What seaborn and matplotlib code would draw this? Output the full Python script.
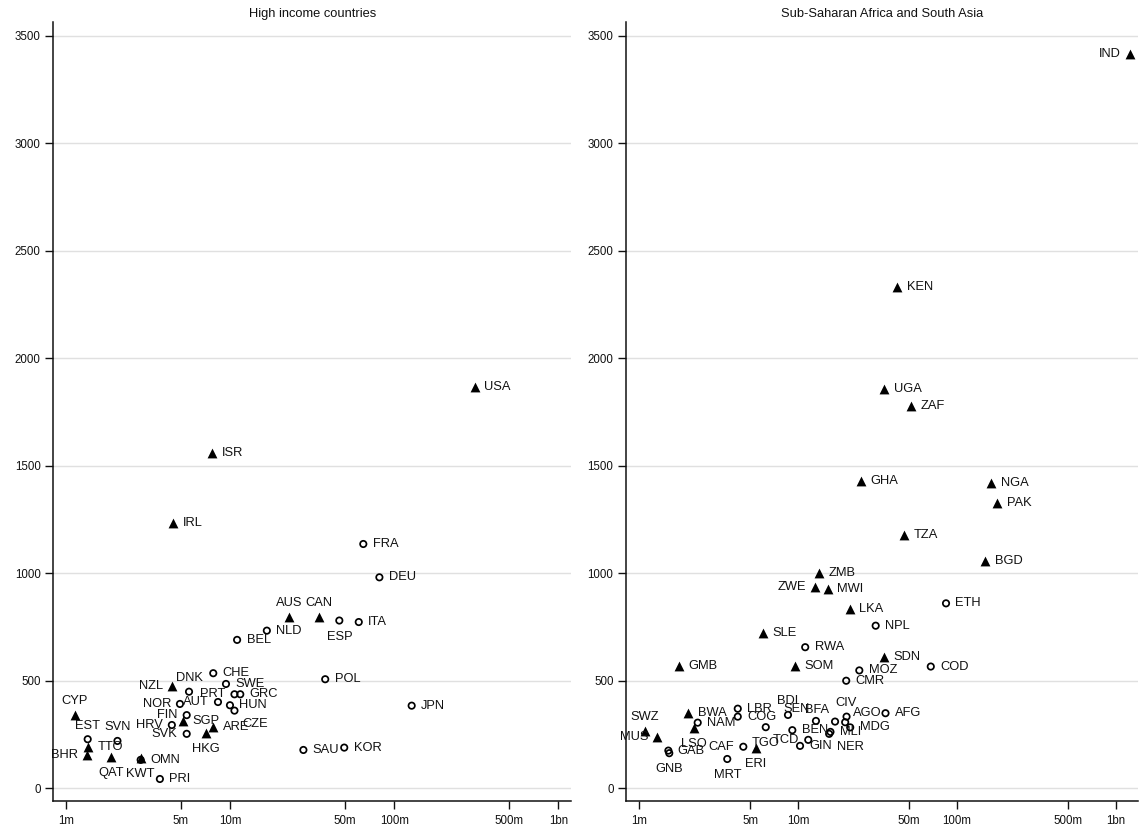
import matplotlib
matplotlib.use("Agg")
import matplotlib.pyplot as plt
from matplotlib.ticker import FixedLocator, FixedFormatter, NullLocator
import pandas as pd
import seaborn as sns

# ---- High income countries: ISO code, population (millions), value, legal origin
hi_codes = ["USA", "ISR", "IRL", "FRA", "DEU", "AUS", "CAN", "ESP", "ITA", "NLD",
            "BEL", "POL", "JPN", "SAU", "KOR", "CHE", "SWE", "NZL", "DNK", "NOR",
            "AUT", "PRT", "GRC", "HUN", "CZE", "FIN", "SGP", "HRV", "SVK", "HKG",
            "ARE", "CYP", "EST", "TTO", "BHR", "SVN", "QAT", "KWT", "OMN", "PRI"]
hi_pop = [310, 7.76, 4.49, 64.7, 81.1, 22.9, 34.9, 46.2, 60.7, 16.7,
          11.0, 37.9, 127.6, 27.9, 49.5, 7.87, 9.41, 4.43, 5.60, 4.93,
          8.41, 10.6, 11.5, 9.95, 10.6, 5.42, 5.16, 4.40, 5.42, 7.11,
          7.87, 1.13, 1.35, 1.36, 1.33, 2.05, 1.87, 2.84, 2.84, 3.72]
hi_value = [1867, 1561, 1235, 1136, 981, 798, 798, 780, 773, 733,
            690, 507, 384, 178, 189, 535, 485, 477, 449, 392,
            401, 437, 437, 386, 361, 340, 313, 294, 253, 256,
            287, 341, 228, 193, 155, 220, 147, 140, 132, 43]
hi_origin = ["common", "common", "common", "civil", "civil", "common", "common", "civil", "civil", "civil",
             "civil", "civil", "civil", "civil", "civil", "civil", "civil", "common", "civil", "civil",
             "civil", "civil", "civil", "civil", "civil", "civil", "common", "civil", "civil", "common",
             "common", "common", "civil", "common", "common", "civil", "common", "common", "civil", "civil"]

# ---- Sub-Saharan Africa and South Asia
ssa_codes = ["IND", "KEN", "UGA", "ZAF", "GHA", "NGA", "PAK", "TZA", "BGD", "ETH",
             "ZMB", "ZWE", "MWI", "LKA", "NPL", "SLE", "RWA", "SDN", "GMB", "SOM",
             "COD", "MOZ", "CMR", "BWA", "LBR", "COG", "NAM", "LSO", "SWZ", "MUS",
             "GAB", "GNB", "MRT", "CAF", "TGO", "ERI", "BDI", "SEN", "BFA", "BEN",
             "GIN", "TCD", "MLI", "NER", "CIV", "AGO", "MDG", "AFG"]
ssa_pop = [1224, 42.0, 34.9, 51.4, 24.9, 164, 179, 46.4, 150.7, 85.3,
           13.6, 12.8, 15.4, 21.1, 30.8, 6.05, 11.1, 34.6, 1.79, 9.64,
           68.4, 24.3, 20.1, 2.04, 4.18, 4.18, 2.34, 2.23, 1.09, 1.30,
           1.53, 1.55, 3.59, 4.53, 6.27, 5.43, 8.65, 12.97, 17.1, 9.21,
           10.3, 11.6, 16.0, 15.7, 20.2, 19.8, 21.3, 35.5]
ssa_value = [3415, 2332, 1856, 1780, 1429, 1419, 1328, 1178, 1057, 860,
             1001, 938, 927, 833, 756, 721, 656, 612, 570, 570,
             566, 548, 500, 349, 370, 333, 305, 279, 267, 240,
             175, 163, 136, 193, 284, 187, 341, 313, 310, 270,
             197, 225, 262, 253, 333, 307, 283, 349]
ssa_origin = ["common", "common", "common", "common", "common", "common", "common", "common", "common", "civil",
              "common", "common", "common", "common", "civil", "common", "civil", "common", "common", "common",
              "civil", "civil", "civil", "common", "civil", "civil", "civil", "common", "common", "common",
              "civil", "civil", "civil", "civil", "civil", "common", "civil", "civil", "civil", "civil",
              "civil", "civil", "civil", "civil", "civil", "civil", "civil", "civil"]

x_ticks = [1e6, 5e6, 1e7, 5e7, 1e8, 5e8, 1e9]
x_tick_labels = ["1m", "5m", "10m", "50m", "100m", "500m", "1bn"]
y_ticks = [0, 500, 1000, 1500, 2000, 2500, 3000, 3500]

# Label placement as clock positions (default: 3 o'clock)
label_clock = {
    "AUS": 12, "CAN": 12, "ESP": 6, "NZL": 9, "DNK": 12, "NOR": 9, "AUT": 9,
    "PRT": 9, "CZE": 4, "FIN": 9, "HRV": 9, "SVK": 9, "HKG": 6, "CYP": 12,
    "EST": 12, "BHR": 9, "SVN": 12, "QAT": 6, "KWT": 6,
    "IND": 9, "ZWE": 9, "LSO": 6, "SWZ": 12, "MUS": 9, "GNB": 6, "MRT": 6,
    "CAF": 9, "TGO": 6, "ERI": 6, "BDI": 12, "SEN": 10, "BFA": 10, "TCD": 9,
    "NER": 4, "CIV": 12, "AGO": 2,
}
# clock -> (dx pt, dy pt, horizontal alignment)
clock_offsets = {
    3: (6.8, 0.0, "left"), 9: (-6.5, 0.0, "right"),
    12: (0.0, 9.7, "center"), 6: (0.0, -11.5, "center"),
    10: (-4.3, 8.3, "right"), 4: (5.4, -9.7, "left"), 2: (5.4, 7.0, "left"),
}

marker_styles = {
    "common": dict(marker="^", s=50, color="black", edgecolor="black", linewidth=0),
    "civil": dict(marker="o", s=21, color="black", facecolor="none",
                  edgecolor="black", linewidth=1.25),
}

sns.set_theme(style="white")
plt.rcParams["font.family"] = ["Liberation Sans", "DejaVu Sans"]

W, H = 1139, 831
fig = plt.figure(figsize=(W / 100, H / 100), dpi=100)
ax_l = fig.add_axes([53.3 / W, 30.3 / H, 517.7 / W, 778.7 / H])
ax_r = fig.add_axes([626 / W, 30.3 / H, 512 / W, 778.7 / H])


def build_frame(codes, pop, value, origin):
    return pd.DataFrame({"code": codes,
                         "pop": [p * 1e6 for p in pop],
                         "value": value,
                         "origin": origin})


def draw_panel(ax, df, title, xlim):
    ax.set_xscale("log")
    for origin, style in marker_styles.items():
        sub = df[df["origin"] == origin]
        sns.scatterplot(data=sub, x="pop", y="value", ax=ax, legend=False,
                        zorder=3, clip_on=False, **style)
    for row in df.itertuples():
        dx, dy, ha = clock_offsets[label_clock.get(row.code, 3)]
        ax.annotate(row.code, (row.pop, row.value), xytext=(dx, dy),
                    textcoords="offset points", ha=ha, va="center",
                    fontsize=9.3, color="#111111", zorder=4)
    ax.set_xlim(*xlim)
    ax.set_ylim(-58, 3564)
    ax.xaxis.set_major_locator(FixedLocator(x_ticks))
    ax.xaxis.set_major_formatter(FixedFormatter(x_tick_labels))
    ax.xaxis.set_minor_locator(NullLocator())
    ax.set_yticks(y_ticks)
    ax.set_xlabel("")
    ax.set_ylabel("")
    ax.grid(False)
    ax.grid(axis="y", color="#e0e0e0", linewidth=1.0)
    ax.set_axisbelow(True)
    for side in ("top", "right"):
        ax.spines[side].set_visible(False)
    for side in ("left", "bottom"):
        ax.spines[side].set_color("#111111")
        ax.spines[side].set_linewidth(1.1)
    ax.tick_params(axis="both", which="major", direction="out", length=5.5,
                   width=1.0, color="#111111", labelsize=8.3,
                   labelcolor="#111111", bottom=True, left=True)
    ax.tick_params(axis="x", pad=5)
    ax.tick_params(axis="y", pad=3.5)
    ax.set_title(title, fontsize=9.3, color="#111111", pad=3.5)


hi = build_frame(hi_codes, hi_pop, hi_value, hi_origin)
ssa = build_frame(ssa_codes, ssa_pop, ssa_value, ssa_origin)

draw_panel(ax_l, hi, "High income countries", (0.833e6, 1.195e9))
draw_panel(ax_r, ssa, "Sub-Saharan Africa and South Asia", (0.8285e6, 1.375e9))

fig.savefig("out.png", dpi=100)
